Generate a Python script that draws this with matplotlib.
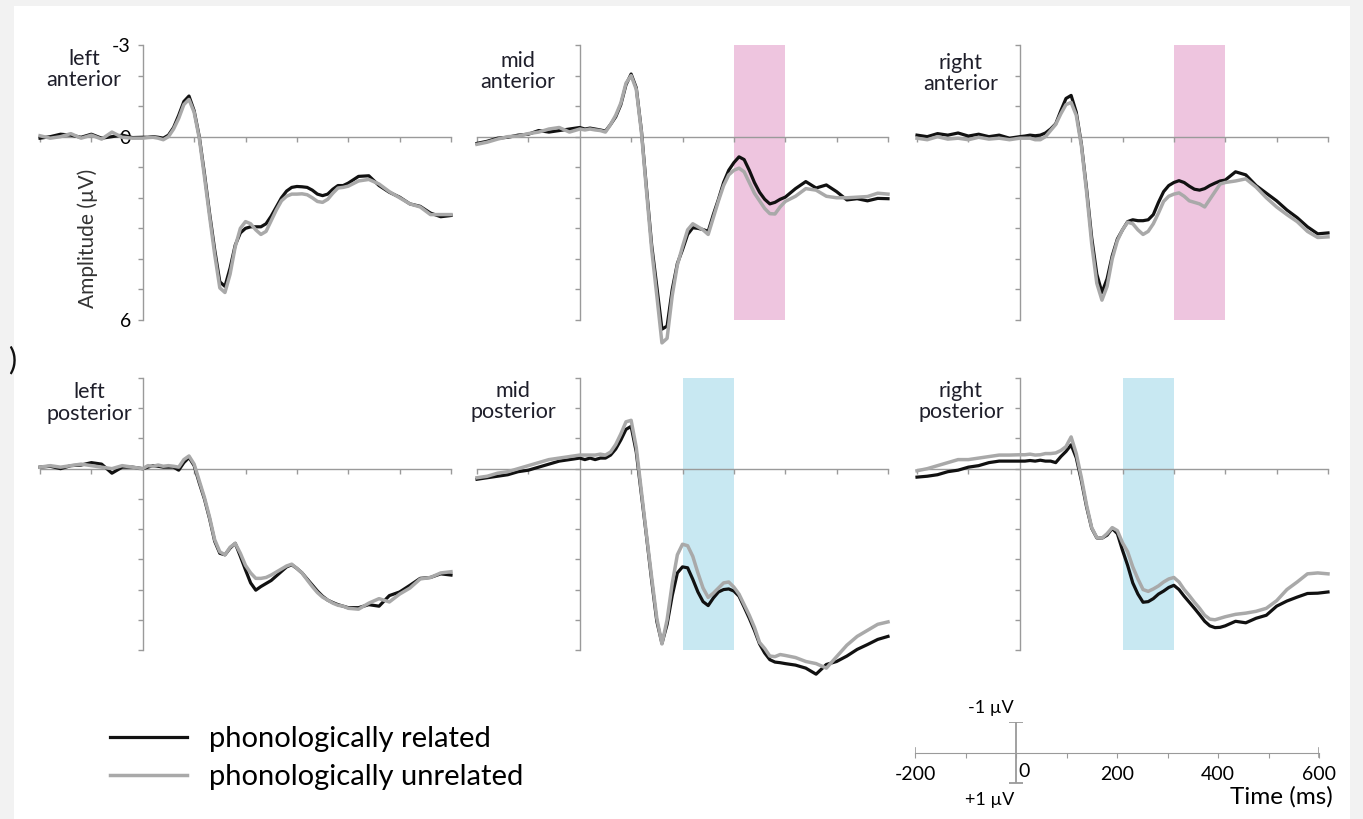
import numpy as np
import matplotlib
matplotlib.use("Agg")
import matplotlib.pyplot as plt
from matplotlib.patches import Rectangle

plt.rcParams['font.family'] = ['Lato', 'DejaVu Sans']

# time grid (ms): 20 ms steps before onset, 10 ms up to 400, 20 ms after
times = np.concatenate([np.arange(-200, 1, 20), np.arange(10, 401, 10), np.arange(420, 601, 20)])

# amplitudes in microvolts (negative plotted upwards)
la_rel = [0.05, 0.0, -0.08, -0.05, 0.02, -0.08, 0.05, 0.0, -0.05, 0.03, 0.02,
          0.02, 0.0, 0.02, 0.05, -0.05, -0.3, -0.7, -1.15, -1.33, -0.85,
          0.0, 1.2, 2.5, 3.7, 4.75, 4.9, 4.3, 3.55, 3.15, 3.0,
          2.95, 2.95, 2.95, 2.85, 2.6, 2.3, 2.0, 1.78, 1.66, 1.63,
          1.64, 1.66, 1.75, 1.88, 1.93, 1.88, 1.72, 1.6, 1.6, 1.52,
          1.3, 1.28, 1.6, 1.82, 1.98, 2.2, 2.28, 2.5, 2.62, 2.58]
la_unrel = [-0.03, 0.05, 0.0, -0.1, 0.05, -0.05, 0.08, -0.15, 0.02, 0.05, 0.05,
            0.03, 0.02, 0.05, 0.1, 0.0, -0.25, -0.6, -1.05, -1.22, -0.8,
            0.05, 1.3, 2.6, 3.85, 4.95, 5.1, 4.5, 3.6, 3.0, 2.78,
            2.85, 3.05, 3.2, 3.1, 2.75, 2.4, 2.1, 1.95, 1.88, 1.88,
            1.87, 1.9, 2.0, 2.12, 2.15, 2.05, 1.85, 1.68, 1.66, 1.62,
            1.45, 1.4, 1.55, 1.8, 2.0, 2.2, 2.3, 2.55, 2.55, 2.55]

ma_rel = [0.22, 0.15, 0.05, 0.02, -0.05, -0.08, -0.2, -0.15, -0.2, -0.25, -0.3,
          -0.25, -0.28, -0.25, -0.22, -0.18, -0.4, -0.65, -1.05, -1.7, -2.05,
          -1.6, -0.2, 1.7, 3.55, 4.9, 6.3, 6.2, 5.0, 4.15, 3.7,
          3.2, 2.98, 3.0, 3.04, 3.1, 2.55, 2.05, 1.5, 1.1, 0.85,
          0.66, 0.75, 1.1, 1.5, 1.82, 2.05, 2.2, 2.15, 2.05, 1.98,
          1.7, 1.47, 1.68, 1.58, 1.8, 2.07, 2.03, 2.1, 2.02, 2.03]
ma_unrel = [0.25, 0.18, 0.08, 0.0, -0.02, -0.1, -0.15, -0.25, -0.3, -0.15, -0.25,
            -0.22, -0.25, -0.22, -0.2, -0.15, -0.4, -0.7, -1.1, -1.75, -2.0,
            -1.55, -0.15, 1.8, 3.7, 5.2, 6.75, 6.6, 5.2, 4.2, 3.6,
            3.05, 2.85, 2.95, 3.05, 3.2, 2.65, 2.1, 1.6, 1.25, 1.1,
            1.03, 1.15, 1.5, 1.85, 2.1, 2.35, 2.52, 2.53, 2.3, 2.12,
            1.95, 1.7, 1.75, 1.95, 2.0, 2.0, 1.98, 1.96, 1.85, 1.88]

ra_rel = [-0.05, 0.0, -0.1, -0.05, -0.12, -0.02, -0.08, 0.0, -0.05, 0.05, 0.0,
          -0.02, -0.05, -0.03, -0.05, -0.12, -0.25, -0.42, -0.85, -1.25, -1.35,
          -0.8, 0.25, 1.7, 3.3, 4.5, 5.1, 4.65, 3.9, 3.35, 3.05,
          2.78, 2.72, 2.75, 2.75, 2.72, 2.55, 2.15, 1.8, 1.6, 1.5,
          1.44, 1.5, 1.62, 1.72, 1.75, 1.7, 1.6, 1.52, 1.45, 1.42,
          1.15, 1.25, 1.6, 1.85, 2.1, 2.4, 2.65, 2.95, 3.18, 3.15]
ra_unrel = [0.05, 0.1, 0.0, 0.08, 0.05, 0.1, 0.02, 0.08, 0.05, 0.1, 0.05,
            0.05, 0.05, 0.1, 0.1, 0.0, -0.2, -0.4, -0.75, -1.05, -1.12,
            -0.7, 0.3, 1.8, 3.5, 4.8, 5.35, 4.9, 4.0, 3.4, 3.05,
            2.8, 2.85, 3.05, 3.2, 3.1, 2.85, 2.5, 2.12, 1.95, 1.88,
            1.84, 1.95, 2.1, 2.15, 2.2, 2.3, 2.05, 1.8, 1.55, 1.5,
            1.45, 1.38, 1.65, 2.0, 2.3, 2.55, 2.78, 3.1, 3.3, 3.28]

lp_rel = [-0.05, -0.08, 0.0, -0.1, -0.12, -0.2, -0.15, 0.15, -0.05, -0.05, 0.0,
          -0.05, -0.1, -0.08, -0.05, -0.05, -0.05, 0.05, -0.2, -0.37, -0.1,
          0.47, 1.0, 1.65, 2.4, 2.8, 2.85, 2.63, 2.47, 2.9, 3.35,
          3.78, 4.02, 3.9, 3.8, 3.7, 3.55, 3.4, 3.25, 3.18, 3.3,
          3.45, 3.65, 3.85, 4.05, 4.22, 4.35, 4.43, 4.5, 4.55, 4.6,
          4.6, 4.5, 4.55, 4.2, 4.08, 3.86, 3.63, 3.6, 3.48, 3.52]
lp_unrel = [-0.05, -0.1, -0.05, -0.1, -0.15, -0.1, -0.05, 0.0, -0.1, -0.05, 0.0,
            -0.1, -0.08, -0.12, -0.08, -0.1, -0.08, -0.05, -0.3, -0.42, -0.15,
            0.4, 0.95, 1.6, 2.35, 2.75, 2.85, 2.6, 2.47, 2.8, 3.2,
            3.45, 3.63, 3.63, 3.6, 3.52, 3.42, 3.32, 3.22, 3.16, 3.3,
            3.45, 3.68, 3.9, 4.1, 4.25, 4.35, 4.45, 4.52, 4.55, 4.62,
            4.65, 4.45, 4.3, 4.41, 4.15, 3.95, 3.65, 3.6, 3.45, 3.41]

mp_rel = [0.35, 0.3, 0.25, 0.2, 0.1, 0.05, -0.05, -0.15, -0.25, -0.3, -0.35,
          -0.3, -0.35, -0.3, -0.35, -0.35, -0.45, -0.65, -0.95, -1.3, -1.4,
          -0.55, 0.85, 2.25, 3.7, 5.05, 5.78, 5.15, 4.2, 3.45, 3.25,
          3.28, 3.66, 4.08, 4.4, 4.53, 4.28, 4.08, 4.0, 3.98, 4.05,
          4.22, 4.58, 4.95, 5.35, 5.8, 6.1, 6.32, 6.4, 6.42, 6.45,
          6.5, 6.6, 6.8, 6.48, 6.38, 6.2, 5.98, 5.82, 5.65, 5.55]
mp_unrel = [0.3, 0.25, 0.15, 0.1, 0.0, -0.1, -0.2, -0.3, -0.35, -0.4, -0.45,
            -0.45, -0.45, -0.45, -0.48, -0.45, -0.55, -0.8, -1.15, -1.55, -1.6,
            -0.7, 0.75, 2.2, 3.6, 4.95, 5.8, 5.0, 3.8, 2.85, 2.5,
            2.55, 2.9, 3.45, 3.95, 4.26, 4.12, 3.95, 3.78, 3.75, 3.92,
            4.15, 4.5, 4.85, 5.25, 5.75, 5.95, 6.2, 6.22, 6.15, 6.18,
            6.25, 6.38, 6.45, 6.6, 6.22, 5.84, 5.55, 5.35, 5.15, 5.07]

rp_rel = [0.28, 0.25, 0.2, 0.1, 0.05, -0.05, -0.1, -0.2, -0.25, -0.25, -0.25,
          -0.25, -0.27, -0.25, -0.28, -0.25, -0.25, -0.2, -0.4, -0.57, -0.79,
          -0.36, 0.4, 1.26, 1.97, 2.29, 2.3, 2.2, 1.98, 2.15, 2.7,
          3.2, 3.78, 4.15, 4.42, 4.4, 4.3, 4.15, 4.05, 3.93, 3.86,
          4.0, 4.22, 4.42, 4.62, 4.83, 5.05, 5.2, 5.26, 5.25, 5.2,
          5.05, 5.1, 4.95, 4.85, 4.55, 4.38, 4.25, 4.13, 4.12, 4.08]
rp_unrel = [0.07, 0.0, -0.1, -0.2, -0.3, -0.3, -0.35, -0.4, -0.45, -0.45, -0.46,
            -0.46, -0.48, -0.45, -0.46, -0.5, -0.5, -0.52, -0.6, -0.73, -1.05,
            -0.5, 0.3, 1.2, 1.95, 2.28, 2.3, 2.15, 1.95, 2.05, 2.45,
            2.75, 3.25, 3.65, 4.0, 4.06, 3.98, 3.88, 3.75, 3.65, 3.6,
            3.75, 4.0, 4.2, 4.42, 4.62, 4.85, 4.98, 5.0, 4.95, 4.9,
            4.82, 4.78, 4.72, 4.62, 4.37, 4.0, 3.75, 3.48, 3.45, 3.48]

panel_names = [("left", "anterior"), ("mid", "anterior"), ("right", "anterior"),
               ("left", "posterior"), ("mid", "posterior"), ("right", "posterior")]
related = [la_rel, ma_rel, ra_rel, lp_rel, mp_rel, rp_rel]
unrelated = [la_unrel, ma_unrel, ra_unrel, lp_unrel, mp_unrel, rp_unrel]
# analysis windows (ms), None = no window
windows = [None, (300, 400), (300, 400), None, (200, 300), (200, 300)]
window_colors = [None, "#eec5df", "#eec5df", None, "#c8e8f2", "#c8e8f2"]

W, H = 1363, 819
fig = plt.figure(figsize=(W / 100, H / 100), dpi=100)
fig.patch.set_facecolor("#f2f2f2")
fig.add_artist(Rectangle((14 / W, 0), (1350 - 14) / W, 1 - 6 / H,
                         transform=fig.transFigure, facecolor="white",
                         edgecolor="none", zorder=-10))

axis_col = "#9a9a9a"
black = "#111111"
grey = "#a9a9a9"

col_left = [40, 477, 917]
row_top = [45, 378]
row_bot = [320, 650]
pw = 411

# panel label positions (pixel centre of the two lines)
title_xy = [(84, 59, 80), (518, 61, 82), (961, 63, 84), (89, 392, 414), (513, 391, 412), (961, 391, 412)]

for i in range(6):
    r, c = divmod(i, 3)
    ax = fig.add_axes([col_left[c] / W, 1 - row_bot[r] / H, pw / W, (row_bot[r] - row_top[r]) / H])
    ax.set_facecolor("none")
    ax.set_xlim(-200, 600)
    ax.set_ylim(6, -3)
    if windows[i]:
        ax.axvspan(windows[i][0], windows[i][1], color=window_colors[i], lw=0, zorder=0)
    ax.plot(times, related[i], color=black, lw=2.3, clip_on=False, zorder=3)
    ax.plot(times, unrelated[i], color=grey, lw=2.5, clip_on=False, zorder=4)

    for s in ["top", "right"]:
        ax.spines[s].set_visible(False)
    ax.spines["left"].set_position(("data", 0))
    ax.spines["bottom"].set_position(("data", 0))
    for s in ["left", "bottom"]:
        ax.spines[s].set_color(axis_col)
        ax.spines[s].set_linewidth(1.0)
        ax.spines[s].set_zorder(2)
    ax.spines["left"].set_bounds(-3, 6)
    ax.spines["bottom"].set_bounds(-200, 600)
    ax.set_xticks([-200, -100, 100, 200, 300, 400, 500, 600])
    ax.set_xticklabels([])
    ax.set_yticks(range(-3, 7))
    if i == 0:
        ax.set_yticklabels(["-3", "", "", "0", "", "", "", "", "", "6"], fontsize=14)
    else:
        ax.set_yticklabels([])
    ax.tick_params(axis="both", direction="out", length=3.5, width=1, color=axis_col, pad=5)
    x0, y1, y2 = title_xy[i]
    fig.text(x0 / W, 1 - y1 / H, panel_names[i][0], ha="center", va="center",
             fontsize=15.5, color="#1e1e2a")
    fig.text(x0 / W, 1 - y2 / H, panel_names[i][1], ha="center", va="center",
             fontsize=15.5, color="#1e1e2a")

fig.text(88 / W, 1 - 238 / H, "Amplitude (µV)", rotation=90, ha="center", va="center",
         fontsize=15, color="#333333")
fig.text(12 / W, 1 - 360 / H, ")", ha="center", va="center", fontsize=22, color="#111111")

# legend
handles = fig.axes[0].get_lines()
fig.legend(handles, ["phonologically related", "phonologically unrelated"],
           loc="upper left", bbox_to_anchor=(110 / W, 1 - 726 / H), frameon=False,
           fontsize=21, handlelength=2.65, handletextpad=0.75, labelspacing=0.42,
           borderpad=0, borderaxespad=0)

# time / amplitude scale
sx = fig.add_axes([915 / W, 1 - 783 / H, 404 / W, 61 / H])
sx.set_facecolor("none")
sx.set_xlim(-200, 600)
sx.set_ylim(1, -1)
for s in ["top", "right", "left"]:
    sx.spines[s].set_visible(False)
sx.spines["bottom"].set_position(("data", 0))
sx.spines["bottom"].set_color(axis_col)
sx.set_yticks([])
sx.set_xticks(range(-200, 601, 100))
sx.set_xticklabels(["-200", "", "", "", "200", "", "400", "", "600"], fontsize=14)
sx.tick_params(axis="x", direction="out", length=3.5, color=axis_col, pad=6)
sx.plot([-200, -200], [-0.15, 0.15], color=axis_col, lw=1.2)
sx.plot([600, 600], [-0.15, 0.15], color=axis_col, lw=1.2)
sx.errorbar([0], [0], yerr=[1], color=axis_col, lw=1.3, capsize=5, capthick=1.3)
sx.text(4, 0.62, "0", ha="left", va="center", fontsize=14)
sx.text(-4, -1.47, "-1 µV", ha="right", va="center", fontsize=13)
sx.text(-4, 1.57, "+1 µV", ha="right", va="center", fontsize=13)
sx.text(628, 1.45, "Time (ms)", ha="right", va="center", fontsize=17.5)

fig.savefig("out.png", dpi=100, facecolor=fig.get_facecolor())
